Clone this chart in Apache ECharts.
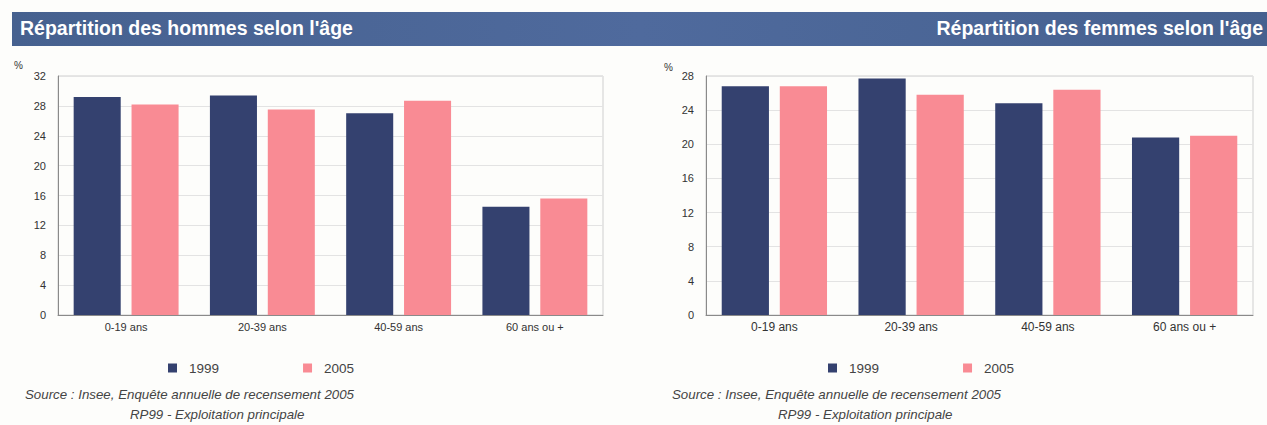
<!DOCTYPE html>
<html>
<head>
<meta charset="utf-8">
<script src="https://cdn.jsdelivr.net/npm/echarts@6/dist/echarts.min.js"></script>
<style>
  html, body { margin: 0; padding: 0; background: #fdfdfb; }
  #chart { width: 1267px; height: 425px; }
</style>
</head>
<body>
<div id="chart"></div>
<script>
// Age groups shared by both panels
const categories = ['0-19 ans', '20-39 ans', '40-59 ans', '60 ans ou +'];
const seriesNames = ['1999', '2005'];

// Men: share of each age group (%)
const hommes1999 = [29.2, 29.4, 27.0, 14.5];
const hommes2005 = [28.2, 27.5, 28.7, 15.6];

// Women: share of each age group (%)
const femmes1999 = [26.8, 27.7, 24.8, 20.8];
const femmes2005 = [26.8, 25.8, 26.4, 21.0];

const titleHommes = "Répartition des hommes selon l'âge";
const titleFemmes = "Répartition des femmes selon l'âge";
const sourceLine1 = 'Source : Insee, Enquête annuelle de recensement 2005';
const sourceLine2 = 'RP99 - Exploitation principale';

const NAVY = '#34416f';
const PINK = '#f98b94';
const FONT = '"Liberation Sans", Arial, sans-serif';

function yAxis(gridIndex, max, fontSize) {
  return {
    type: 'value', gridIndex, min: 0, max, interval: 4,
    axisLine: { show: true, lineStyle: { color: '#8a8a8a' } },
    axisTick: { show: false },
    axisLabel: { color: '#333', fontSize, fontFamily: FONT, margin: 12 },
    splitLine: { lineStyle: { color: '#e3e3e3' } }
  };
}
function xAxis(gridIndex, fontSize) {
  return {
    type: 'category', gridIndex, data: categories,
    axisLine: { lineStyle: { color: '#8a8a8a' } },
    axisTick: { show: false },
    axisLabel: { color: '#333', fontSize, fontFamily: FONT, margin: 6 }
  };
}
function bars(name, data, color, idx) {
  return {
    type: 'bar', name, data, xAxisIndex: idx, yAxisIndex: idx,
    itemStyle: { color },
    barGap: '23%', barCategoryGap: '23%',
    silent: true
  };
}
function legend(left) {
  return {
    data: seriesNames, left, top: 361, padding: 0, icon: 'rect',
    itemWidth: 9, itemHeight: 9, itemGap: 84,
    textStyle: { color: '#444', fontSize: 13.5, fontFamily: FONT, padding: [0, 0, 0, 7] },
    selectedMode: false
  };
}
function text(x, y, str, style) {
  return { type: 'text', left: x, top: y, style: Object.assign({ text: str, fontFamily: FONT }, style) };
}

const chart = echarts.init(document.getElementById('chart'), null, { renderer: 'svg' });
chart.setOption({
  animation: false,
  backgroundColor: '#fdfdfb',
  grid: [
    { left: 58, top: 76, width: 545, height: 239, show: true, borderColor: '#cfcfcf', borderWidth: 1 },
    { left: 706, top: 76, width: 547, height: 239, show: true, borderColor: '#cfcfcf', borderWidth: 1 }
  ],
  xAxis: [xAxis(0, 11), xAxis(1, 12)],
  yAxis: [yAxis(0, 32, 11), yAxis(1, 28, 11)],
  legend: [legend(168), legend(828)],
  series: [
    bars(seriesNames[0], hommes1999, NAVY, 0),
    bars(seriesNames[1], hommes2005, PINK, 0),
    bars(seriesNames[0], femmes1999, NAVY, 1),
    bars(seriesNames[1], femmes2005, PINK, 1)
  ],
  graphic: [
    {
      type: 'rect', left: 12, top: 12, z: -1,
      shape: { width: 1255, height: 34 },
      style: {
        fill: new echarts.graphic.LinearGradient(0, 0, 1, 0, [
          { offset: 0, color: '#46618f' },
          { offset: 0.5, color: '#4f6a9d' },
          { offset: 1, color: '#46618f' }
        ])
      }
    },
    text(20, 18, titleHommes, { fill: '#ffffff', fontSize: 19.5, fontWeight: 'bold' }),
    { type: 'text', right: 4, top: 18, style: { text: titleFemmes, fill: '#ffffff', fontSize: 19.5, fontWeight: 'bold', fontFamily: FONT } },
    text(14, 60, '%', { fill: '#333', fontSize: 10 }),
    text(664, 62, '%', { fill: '#333', fontSize: 10 }),
    text(25, 388, sourceLine1, { fill: '#444', fontSize: 13.3, fontStyle: 'italic' }),
    text(130, 408, sourceLine2, { fill: '#444', fontSize: 13.3, fontStyle: 'italic' }),
    text(672, 388, sourceLine1, { fill: '#444', fontSize: 13.3, fontStyle: 'italic' }),
    text(778, 408, sourceLine2, { fill: '#444', fontSize: 13.3, fontStyle: 'italic' })
  ]
});
</script>
</body>
</html>
